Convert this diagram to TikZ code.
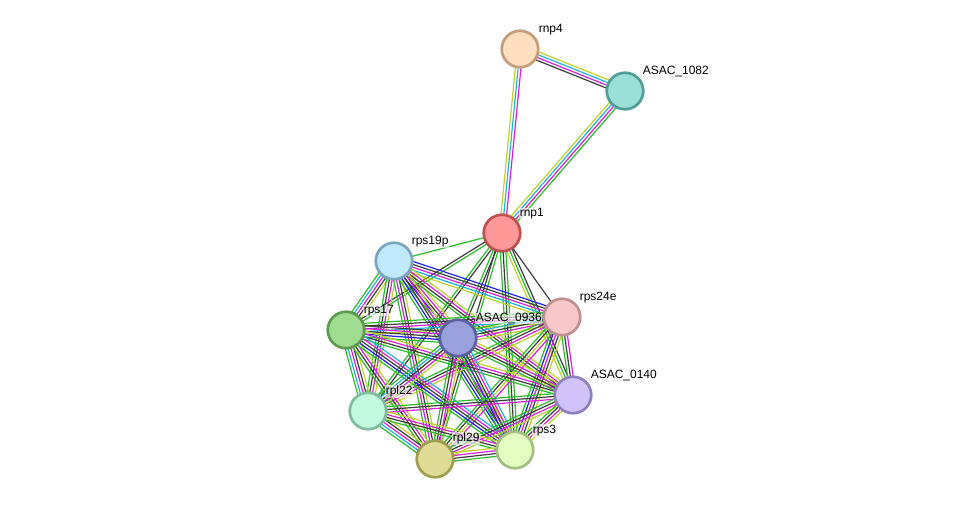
\documentclass[tikz,border=0pt]{standalone}
\usepackage{fontspec}
\setmainfont{Liberation Sans}
\usetikzlibrary{calc}
\pgfdeclarelayer{bg}
\pgfsetlayers{bg,main}
\definecolor{cgr}{RGB}{40,190,40}
\definecolor{cbl}{RGB}{30,30,240}
\definecolor{ccy}{RGB}{30,180,225}
\definecolor{cmg}{RGB}{220,30,220}
\definecolor{cbk}{RGB}{60,60,60}
\definecolor{cyg}{RGB}{190,210,40}
\tikzset{
  prot/.style={circle, line width=2.7pt, minimum size=36.5pt, inner sep=0pt},
  lab/.style={anchor=west, font=\fontsize{12}{12}\selectfont, fill=white, fill opacity=0.6, text opacity=1, inner sep=0.6pt},
  ln/.style={line width=1.2pt}
}
\newcommand{\sedge}[4]{%
  \foreach \cc [count=\ii] in {#4} {%
    \pgfmathsetmacro{\off}{(\ii-(#3+1)/2)*2.8}%
    \draw[ln, \cc] ($(#1)!\off pt!90:(#2)$) -- ($(#2)!\off pt!-90:(#1)$);
  }%
}
\newcommand{\prot}[5]{% name, x, y, fill, border
  \node[prot, fill=#4, draw=#5] (#1) at (#2,#3) {};
}
\begin{document}
\begin{tikzpicture}[x=1pt,y=-1pt]
\useasboundingbox (0,0) rectangle (975,504);
\definecolor{f1}{RGB}{255,222,192}\definecolor{b1}{RGB}{196,158,122}
\definecolor{f2}{RGB}{154,224,216}\definecolor{b2}{RGB}{78,157,150}
\definecolor{f3}{RGB}{255,152,152}\definecolor{b3}{RGB}{192,80,80}
\definecolor{f4}{RGB}{192,232,255}\definecolor{b4}{RGB}{122,166,192}
\definecolor{f5}{RGB}{248,200,200}\definecolor{b5}{RGB}{192,144,144}
\definecolor{f6}{RGB}{160,220,144}\definecolor{b6}{RGB}{94,154,80}
\definecolor{f7}{RGB}{152,160,221}\definecolor{b7}{RGB}{88,96,160}
\definecolor{f8}{RGB}{210,194,250}\definecolor{b8}{RGB}{144,128,192}
\definecolor{f9}{RGB}{194,250,224}\definecolor{b9}{RGB}{128,188,158}
\definecolor{f10}{RGB}{224,220,152}\definecolor{b10}{RGB}{160,156,80}
\definecolor{f11}{RGB}{226,252,194}\definecolor{b11}{RGB}{162,192,128}

\prot{rnp4}{520}{49}{f1}{b1}
\prot{a1082}{625}{91}{f2}{b2}
\prot{rnp1}{502}{233}{f3}{b3}
\prot{rps19p}{394}{261}{f4}{b4}
\prot{rps24e}{562}{317}{f5}{b5}
\prot{rps17}{346}{330}{f6}{b6}
\prot{a0936}{458}{338}{f7}{b7}
\prot{a0140}{573}{395}{f8}{b8}
\prot{rpl22}{368}{411}{f9}{b9}
\prot{rpl29}{435}{459}{f10}{b10}
\prot{rps3}{515}{450}{f11}{b11}

\node[lab] (l1) at (538,29.5) {rnp4};
\node[lab] (l2) at (642,71.5) {ASAC\_1082};
\node[lab] (l3) at (519,213.5) {rnp1};
\node[lab] (l4) at (411,241.5) {rps19p};
\node[lab] (l5) at (579,297.5) {rps24e};
\node[lab] (l6) at (363,310.5) {rps17};
\node[lab] (l7) at (475,318.5) {ASAC\_0936};
\node[lab] (l8) at (590,375.5) {ASAC\_0140};
\node[lab] (l9) at (385,391.5) {rpl22};
\node[lab] (l10) at (452,438.5) {rpl29};
\node[lab] (l11) at (532,430.5) {rps3};

\begin{pgfonlayer}{bg}
\sedge{rnp4}{a1082}{4}{cbk,cmg,ccy,cyg}
\sedge{rnp4}{rnp1}{3}{cyg,ccy,cmg}
\sedge{a1082}{rnp1}{4}{cyg,ccy,cmg,cgr}
\sedge{rnp1}{rps19p}{1}{cgr}
\sedge{rnp1}{rps24e}{1}{cbk}
\sedge{rnp1}{a0936}{2}{cgr,cbk}
\sedge{rnp1}{rps17}{2}{cbk,cgr}
\sedge{rnp1}{rpl22}{2}{cgr,cbk}
\sedge{rnp1}{rpl29}{2}{cbk,cgr}
\sedge{rnp1}{rps3}{3}{cgr,cbk,cgr}
\sedge{rnp1}{a0140}{3}{cyg,cgr,cbk}
% cluster
\sedge{rps19p}{rps24e}{5}{cyg,ccy,cmg,cbk,cbl}
\sedge{rps19p}{rps17}{5}{cgr,ccy,cmg,cbk,cyg}
\sedge{rps19p}{a0936}{5}{cgr,cbl,cbk,cmg,cyg}
\sedge{rps19p}{a0140}{4}{cgr,cbk,cmg,cyg}
\sedge{rps19p}{rpl22}{4}{cgr,cbk,cmg,cyg}
\sedge{rps19p}{rpl29}{4}{cgr,cmg,cbk,cyg}
\sedge{rps19p}{rps3}{5}{cgr,cbl,cbk,cmg,cyg}
\sedge{rps24e}{rps17}{5}{cgr,cbk,cmg,ccy,cyg}
\sedge{rps24e}{a0936}{5}{cgr,ccy,cbk,cmg,cyg}
\sedge{rps24e}{a0140}{3}{cgr,cbk,cmg}
\sedge{rps24e}{rpl22}{4}{cgr,cbk,cmg,cyg}
\sedge{rps24e}{rpl29}{4}{cgr,cbk,cyg,cmg}
\sedge{rps24e}{rps3}{5}{cgr,cbl,cmg,cbk,cyg}
\sedge{rps17}{a0936}{5}{cgr,cbl,cbk,cmg,cbk}
\sedge{rps17}{a0140}{4}{cgr,cbk,cmg,cyg}
\sedge{rps17}{rpl22}{5}{cgr,ccy,cmg,cbk,cyg}
\sedge{rps17}{rpl29}{4}{cgr,cbk,cmg,cyg}
\sedge{rps17}{rps3}{5}{cgr,cbl,cbk,cmg,ccy}
\sedge{a0936}{a0140}{4}{cgr,cbk,cmg,cyg}
\sedge{a0936}{rpl22}{5}{cgr,ccy,cbk,cmg,cyg}
\sedge{a0936}{rpl29}{4}{cgr,cbk,cmg,cyg}
\sedge{a0936}{rps3}{5}{cgr,cbl,cbk,cmg,ccy}
\sedge{a0140}{rpl22}{3}{cgr,cbk,cmg}
\sedge{a0140}{rpl29}{4}{cgr,cbk,cmg,cyg}
\sedge{a0140}{rps3}{4}{cgr,cbk,cmg,cyg}
\sedge{rpl22}{rpl29}{5}{cgr,ccy,cmg,cbk,cyg}
\sedge{rpl22}{rps3}{4}{cgr,cbk,cmg,cyg}
\sedge{rpl29}{rps3}{4}{cgr,cbk,cmg,cyg}
\end{pgfonlayer}
\end{tikzpicture}
\end{document}
